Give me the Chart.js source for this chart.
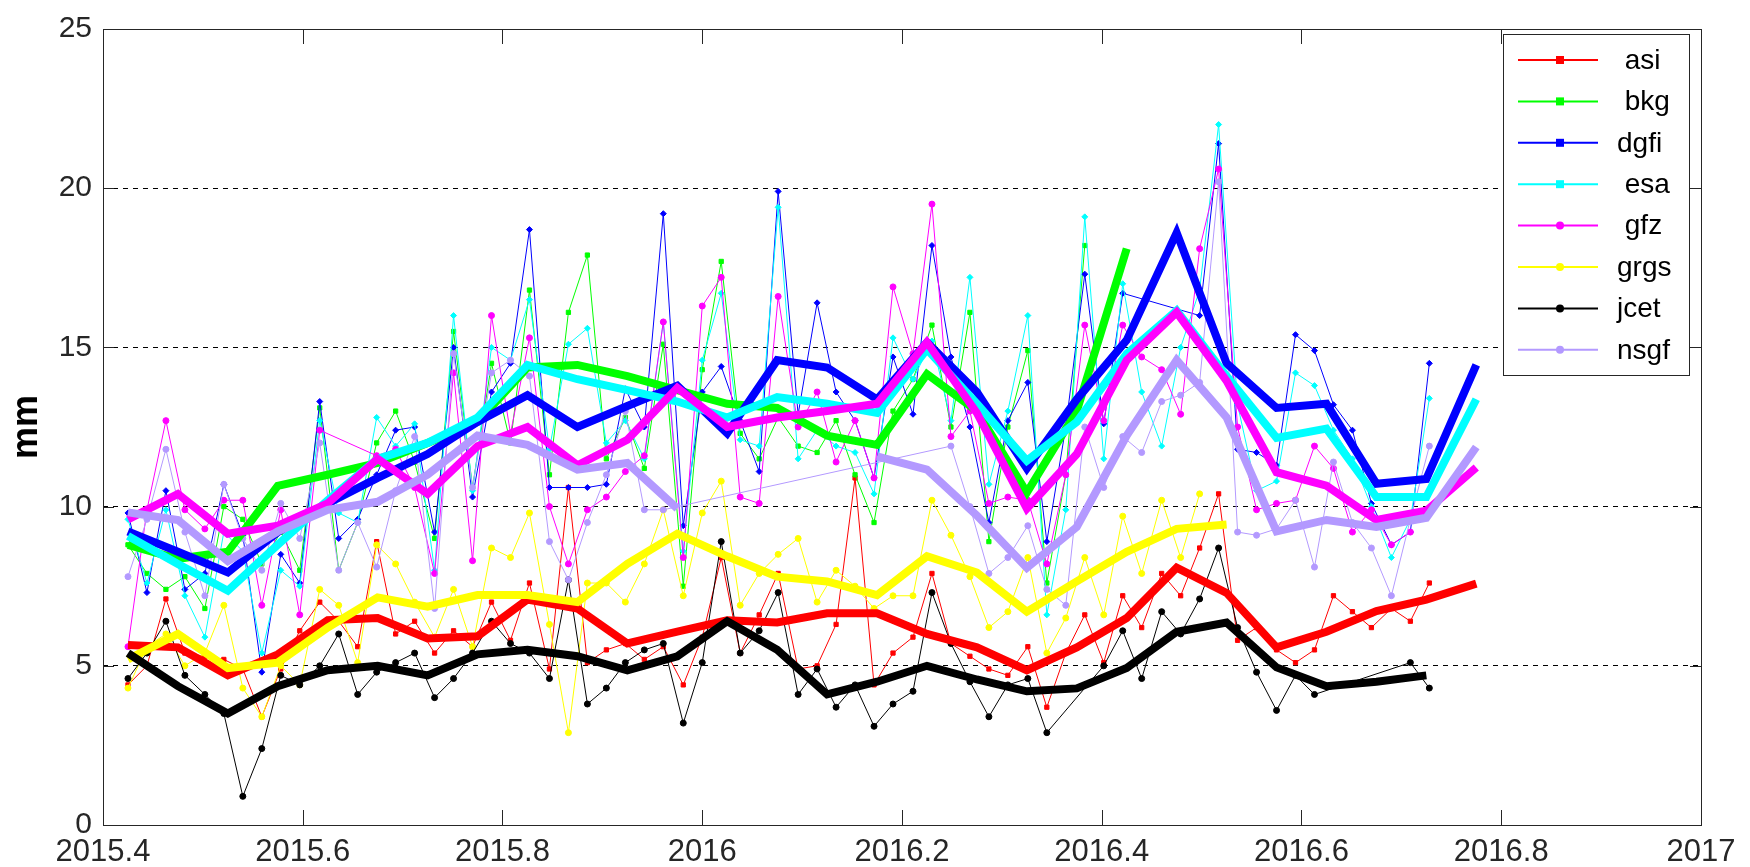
<!DOCTYPE html>
<html>
<head>
<meta charset="utf-8">
<script src="https://cdn.jsdelivr.net/npm/chart.js@4"></script>
<style>
  body { margin: 0; background: #fff; }
  canvas { display: block; }
</style>
</head>
<body>
<canvas id="myChart" width="1750" height="867"></canvas>
<script>
// weekly solution epochs (decimal year)
const weeks = [2015.425, 2015.444, 2015.463, 2015.482, 2015.502, 2015.521, 2015.540, 2015.559, 2015.578, 2015.597,
  2015.617, 2015.636, 2015.655, 2015.674, 2015.693, 2015.712, 2015.732, 2015.751, 2015.770, 2015.789,
  2015.808, 2015.827, 2015.847, 2015.866, 2015.885, 2015.904, 2015.923, 2015.942, 2015.961, 2015.981,
  2016.000, 2016.019, 2016.038, 2016.057, 2016.076, 2016.096, 2016.115, 2016.134, 2016.153, 2016.172,
  2016.191, 2016.211, 2016.230, 2016.249, 2016.268, 2016.287, 2016.306, 2016.326, 2016.345, 2016.364,
  2016.383, 2016.402, 2016.421, 2016.440, 2016.460, 2016.479, 2016.498, 2016.517, 2016.536, 2016.555,
  2016.575, 2016.594, 2016.613, 2016.632, 2016.651, 2016.670, 2016.690, 2016.709, 2016.728];

// epochs of the smoothed curves
const smoothDates = [2015.425, 2015.475, 2015.525, 2015.575, 2015.625, 2015.675, 2015.725, 2015.775, 2015.825, 2015.875,
  2015.925, 2015.975, 2016.025, 2016.075, 2016.125, 2016.175, 2016.225, 2016.275, 2016.325, 2016.375,
  2016.425, 2016.475, 2016.525, 2016.575, 2016.625, 2016.675, 2016.725, 2016.775];

const names = ['asi', 'bkg', 'dgfi', 'esa', 'gfz', 'grgs', 'jcet', 'nsgf'];
const colors = ['#ff0000', '#00ff00', '#0000ff', '#00ffff', '#ff00ff', '#ffff00', '#000000', 'rgb(179,153,255)'];
const markers = ['rect', 'rect', 'rectRot', 'rectRot', 'circle', 'circle', 'circle', 'circle'];

// weekly values (mm)
const asi = [4.4, 5.0, 7.1, 5.4, 5.3, 5.2, 4.9, 3.4, 4.9, 6.1, 7.0, 6.4,
  5.6, 8.9, 6.0, 6.4, 5.4, 6.1, 5.6, 7.0, 5.8, 7.6, 4.9, 10.6,
  5.1, 5.5, 5.7, 5.2, 5.6, 4.4, 5.9, 8.4, 5.4, 6.6, 7.9, 4.9,
  5.0, 6.3, 10.9, 4.4, 5.4, 5.9, 7.9, 5.7, 5.3, 4.9, 4.7, 5.6,
  3.7, 5.4, 6.6, 5.1, 7.2, 6.2, 7.9, 7.2, 8.7, 10.4, 5.8, 6.2,
  5.5, 5.1, 5.5, 7.2, 6.7, 6.2, 6.8, 6.4, 7.6];
const bkg = [8.8, 7.9, 7.4, 7.8, 6.8, 10.0, 9.6, 8.2, 9.2, 8.0, 13.1, 8.0,
  9.5, 12.0, 13.0, 11.4, 9.0, 15.5, 10.6, 14.5, 12.0, 16.8, 11.0, 16.1,
  17.9, 11.5, 12.8, 11.2, 15.1, 7.5, 14.3, 17.7, 12.3, 11.5, 12.8, 11.9,
  11.7, 12.7, 11.0, 9.5, 13.0, 14.0, 15.7, 12.5, 16.1, 8.9, 12.5, 14.9,
  7.6, 11.0, 18.2, null, null, null, null, null, null, null, null, null,
  null, null, null, null, null, null, null, null, null];
const dgfi = [9.8, 7.3, 10.5, 7.4, 7.9, 10.7, 9.1, 4.8, 8.5, 7.6, 13.3, 9.0,
  9.6, 11.0, 12.4, 12.5, 9.2, 15.0, 10.3, 13.6, 14.5, 18.7, 10.6, 10.6,
  10.6, 10.7, 13.7, 12.5, 19.2, 9.4, 13.6, 14.4, 12.7, 11.1, 19.9, 12.9,
  16.4, 13.6, 12.7, 10.9, 14.7, 12.9, 18.2, 14.7, 12.5, 9.5, 12.7, 13.9,
  8.9, 12.5, 17.3, 12.6, 16.7, null, null, null, 16.0, 21.4, 11.8, 11.7,
  11.3, 15.4, 14.9, 13.2, 12.4, 10.1, 8.8, 9.2, 14.5];
const esa = [9.6, 7.6, 9.9, 7.2, 5.9, 9.2, 8.6, 5.4, 8.0, 7.5, 12.7, 9.8,
  9.5, 12.8, 11.9, 12.6, 8.0, 16.0, 10.5, 15.0, 14.6, 16.5, 11.8, 15.1,
  15.6, 12.0, 12.7, 11.5, 15.8, 8.6, 14.6, 16.7, 12.1, 11.9, 19.4, 11.5,
  12.4, 11.9, 11.7, 10.4, 15.3, 14.0, 15.2, 12.7, 17.2, 10.7, 13.0, 16.0,
  6.6, 9.9, 19.1, 11.5, 17.0, 13.6, 11.9, 15.0, 16.8, 22.0, 13.2, 10.5,
  10.8, 14.2, 13.8, 12.4, 11.5, 10.0, 8.4, 9.6, 13.4];
const gfz = [5.6, 9.9, 12.7, 9.9, 9.3, 10.2, 10.2, 6.9, 9.9, 6.6, 12.4, null,
  null, 11.6, 11.8, 10.6, 7.9, 14.2, 8.3, 16.0, 12.3, 15.3, 10.0, 8.2,
  9.9, 10.3, 11.1, 11.6, 15.8, 8.4, 16.3, 17.2, 10.3, 10.1, 16.6, 12.5,
  13.6, 11.4, 12.7, 10.9, 16.9, 14.8, 19.5, 12.2, 13.0, 10.1, 10.3, 10.2,
  8.2, 11.0, 15.7, 12.7, 15.7, 14.7, 14.3, 12.9, 18.1, 20.6, 12.5, 9.9,
  10.1, 10.2, 11.9, 11.2, 9.2, 9.9, 8.8, 9.2, null];
const grgs = [4.3, 5.6, 6.0, 5.0, 5.4, 6.9, 4.3, 3.4, 5.0, 4.4, 7.4, 6.9,
  5.1, 8.8, 8.2, 7.0, 5.9, 7.4, 5.6, 8.7, 8.4, 9.8, 6.3, 2.9,
  7.6, 7.6, 7.0, 8.2, 9.9, 7.2, 9.8, 10.8, 6.9, 7.9, 8.5, 9.0,
  7.0, 8.0, 7.5, 6.8, 7.2, 7.2, 10.2, 9.1, 7.8, 6.2, 6.7, 8.4,
  5.4, 6.5, 8.4, 6.6, 9.7, 7.9, 10.2, 8.4, 10.4, null, null, null,
  null, null, null, null, null, null, null, null, null];
const jcet = [4.6, 5.4, 6.4, 4.7, 4.1, 3.5, 0.9, 2.4, 4.7, 4.4, 5.0, 6.0,
  4.1, 4.8, 5.1, 5.4, 4.0, 4.6, 5.4, 6.4, 5.7, 5.4, 4.6, 7.7,
  3.8, 4.3, 5.1, 5.5, 5.7, 3.2, 5.1, 8.9, 5.4, 6.1, 7.3, 4.1,
  4.9, 3.7, 4.4, 3.1, 3.8, 4.2, 7.3, 5.7, 4.5, 3.4, 4.4, 4.6,
  2.9, null, null, 5.0, 6.1, 4.6, 6.7, 6.0, 7.1, 8.7, 6.2, 4.8,
  3.6, 4.7, 4.1, null, null, null, null, 5.1, 4.3];
const nsgf = [7.8, 9.6, 11.8, 9.2, 7.2, 10.7, 9.0, 8.0, 10.1, 9.0, 12.0, 8.0,
  9.5, 8.1, 10.5, 12.2, 6.8, 14.8, 10.6, 14.2, 14.6, 14.1, 8.9, 7.7,
  9.5, 11.0, 13.0, 9.9, 9.9, null, null, null, null, null, null, null,
  null, null, null, null, null, null, null, 11.9, 10.0, 7.9, 8.4, 9.4,
  7.4, 6.9, 12.5, 10.6, 12.2, 11.7, 13.3, 13.5, 13.9, 20.2, 9.2, 9.1,
  9.3, 10.2, 8.1, 11.4, 9.5, 8.7, 7.2, 9.6, 11.9];

// smoothed values (mm)
const asiSmooth = [5.65, 5.58, 4.7, 5.36, 6.43, 6.5, 5.86, 5.93, 7.08, 6.8, 5.7, 6.07, 6.43, 6.36,
  6.65, 6.65, 6.0, 5.58, 4.86, 5.58, 6.5, 8.08, 7.29, 5.58, 6.07, 6.72, 7.08, 7.58];
const bkgSmooth = [8.8, 8.36, 8.58, 10.65, 11.0, 11.37, 12.0, 12.66, 14.37, 14.45, 14.1, 13.66, 13.23, 13.1,
  12.23, 11.94, 14.16, 13.0, 10.44, 13.0, 18.1, null, null, null, null, null, null, null];
const dgfiSmooth = [9.22, 8.58, 7.93, 9.2, 10.1, 10.9, 11.65, 12.66, 13.5, 12.5, 13.16, 13.8, 12.3, 14.6,
  14.37, 13.37, 15.16, 13.6, 11.2, 13.37, 15.23, 18.6, 14.5, 13.1, 13.23, 10.72, 10.87, 14.45];
const esaSmooth = [9.08, 8.2, 7.36, 8.8, 10.2, 11.5, 12.0, 12.8, 14.45, 14.0, 13.66, 13.3, 12.8, 13.44,
  13.23, 12.94, 14.94, 13.23, 11.44, 12.66, 14.8, 16.16, 14.1, 12.16, 12.45, 10.3, 10.3, 13.37];
const gfzSmooth = [9.6, 10.4, 9.15, 9.4, 10.1, 11.5, 10.4, 11.9, 12.5, 11.3, 12.1, 13.73, 12.5, 12.8,
  13.0, 13.23, 15.16, 12.94, 9.94, 11.65, 14.6, 16.1, 13.95, 11.08, 10.66, 9.58, 9.87, 11.23];
const grgsSmooth = [5.2, 6.0, 4.93, 5.1, 6.2, 7.15, 6.86, 7.22, 7.22, 7.0, 8.2, 9.15, 8.44, 7.8,
  7.65, 7.22, 8.44, 7.93, 6.7, 7.65, 8.58, 9.3, 9.44, null, null, null, null, null];
const jcetSmooth = [5.4, 4.36, 3.5, 4.36, 4.86, 5.0, 4.7, 5.36, 5.5, 5.3, 4.86, 5.3, 6.4, 5.5,
  4.1, 4.5, 5.0, 4.57, 4.2, 4.29, 4.93, 6.07, 6.36, 4.95, 4.36, 4.5, 4.7, null];
const nsgfSmooth = [9.82, 9.58, 8.29, 9.22, 9.9, 10.15, 11.0, 12.23, 11.94, 11.16, 11.37, 9.94, null, null,
  null, 11.58, 11.16, 9.72, 8.08, 9.36, 12.23, 14.6, 12.8, 9.22, 9.58, 9.36, 9.65, 11.87];

const xTicks = [2015.4, 2015.6, 2015.8, 2016, 2016.2, 2016.4, 2016.6, 2016.8, 2017];
const yTicks = [0, 5, 10, 15, 20, 25];

const weekly = [asi, bkg, dgfi, esa, gfz, grgs, jcet, nsgf];
const smooth = [asiSmooth, bkgSmooth, dgfiSmooth, esaSmooth, gfzSmooth, grgsSmooth, jcetSmooth, nsgfSmooth];

const FONT = '"Liberation Sans", Arial, sans-serif';

function pairs(xs, ys, dropNull) {
  let out = xs.map((x, i) => ({x: x, y: ys[i]}));
  if (dropNull) out = out.filter(p => p.y !== null);
  return out;
}

const datasets = [];
// thin weekly lines underneath
names.forEach((n, i) => {
  datasets.push({
    label: n,
    data: pairs(weeks, weekly[i], true),
    borderColor: colors[i],
    backgroundColor: colors[i],
    borderWidth: 1,
    pointStyle: markers[i],
    pointRadius: 3,
    pointBorderWidth: 1,
    pointBackgroundColor: colors[i],
    pointBorderColor: colors[i],
    tension: 0,
    order: 20 - i
  });
});
// thick smoothed lines on top
names.forEach((n, i) => {
  datasets.push({
    label: n + ' smooth',
    data: pairs(smoothDates, smooth[i], false),
    borderColor: colors[i],
    backgroundColor: colors[i],
    borderWidth: 8,
    pointRadius: 0,
    spanGaps: false,
    tension: 0,
    order: 8 - i
  });
});

// box, inward ticks and legend
const framePlugin = {
  id: 'framePlugin',
  afterDraw(chart) {
    const ctx = chart.ctx;
    const a = chart.chartArea;
    const xs = chart.scales.x, ys = chart.scales.y;
    ctx.save();
    ctx.strokeStyle = '#262626';
    ctx.lineWidth = 1;
    ctx.strokeRect(a.left + 0.5, a.top + 0.5, a.right - a.left, a.bottom - a.top);
    ctx.beginPath();
    xTicks.forEach(v => {
      const px = Math.round(xs.getPixelForValue(v)) + 0.5;
      ctx.moveTo(px, a.bottom); ctx.lineTo(px, a.bottom - 15);
      ctx.moveTo(px, a.top); ctx.lineTo(px, a.top + 15);
    });
    yTicks.forEach(v => {
      const py = Math.round(ys.getPixelForValue(v)) + 0.5;
      ctx.moveTo(a.left, py); ctx.lineTo(a.left + 11, py);
      ctx.moveTo(a.right, py); ctx.lineTo(a.right - 11, py);
    });
    ctx.stroke();

    // legend box
    const lx = 1503, ly = 34, lw = 186, lh = 341;
    ctx.fillStyle = '#fff';
    ctx.fillRect(lx, ly, lw, lh);
    ctx.strokeStyle = '#262626';
    ctx.strokeRect(lx + 0.5, ly + 0.5, lw, lh);
    ctx.font = '28px ' + FONT;
    ctx.textBaseline = 'middle';
    ctx.textAlign = 'left';
    names.forEach((n, i) => {
      const y = ly + 26 + i * 41.4;
      ctx.strokeStyle = colors[i];
      ctx.lineWidth = 2;
      ctx.beginPath();
      ctx.moveTo(lx + 15, y); ctx.lineTo(lx + 95, y);
      ctx.stroke();
      ctx.fillStyle = colors[i];
      if (markers[i] === 'circle') {
        ctx.beginPath(); ctx.arc(lx + 57, y, 4, 0, Math.PI * 2); ctx.fill();
      } else {
        ctx.fillRect(lx + 53, y - 4, 8, 8);
      }
      ctx.fillStyle = '#000';
      ctx.fillText(n.padStart(4, ' '), lx + 114, y + 1);
    });
    ctx.restore();
  }
};

const config = {
  type: 'line',
  data: { datasets: datasets },
  options: {
    responsive: false,
    animation: false,
    devicePixelRatio: 1,
    layout: { padding: { left: 0, right: 49, top: 20, bottom: 0 } },
    plugins: { legend: { display: false }, tooltip: { enabled: false } },
    scales: {
      x: {
        type: 'linear',
        min: 2015.4,
        max: 2017,
        afterFit: s => { s.height = 42; },
        afterBuildTicks: s => { s.ticks = xTicks.map(v => ({value: v})); },
        grid: { display: false },
        border: { display: false },
        ticks: {
          autoSkip: false,
          maxRotation: 0,
          padding: 1,
          color: '#262626',
          font: { family: FONT, size: 31 },
          callback: v => String(+v.toFixed(1))
        }
      },
      y: {
        min: 0,
        max: 25,
        afterFit: s => { s.width = 103; },
        afterBuildTicks: s => { s.ticks = yTicks.map(v => ({value: v})); },
        grid: {
          drawTicks: false,
          lineWidth: 1,
          color: c => (c.tick && (c.tick.value === 0 || c.tick.value === 25)) ? 'rgba(0,0,0,0)' : '#000'
        },
        border: { display: false, dash: [5, 5] },
        ticks: {
          padding: 11,
          color: '#262626',
          font: { family: FONT, size: 30 }
        },
        title: {
          display: true,
          text: 'mm',
          color: '#000',
          font: { family: FONT, size: 36, weight: 'bold' },
          padding: { top: 5, bottom: 0 }
        }
      }
    }
  },
  plugins: [framePlugin]
};

const myChart = new Chart(document.getElementById('myChart'), config);
</script>
</body>
</html>
